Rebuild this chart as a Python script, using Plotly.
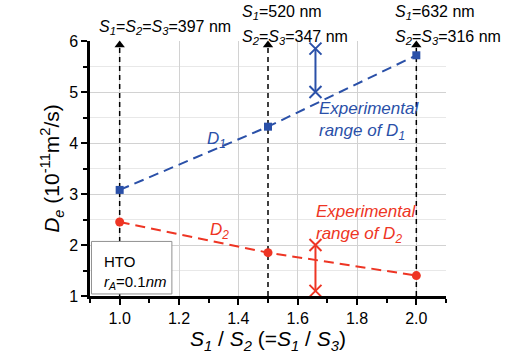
import plotly.graph_objects as go

# ---- data ----
ratio = [1.0, 1.5, 2.0]
d1 = [3.08, 4.32, 5.72]
d2 = [2.45, 1.85, 1.40]
exp_x = [1.66, 1.66]
exp_d1 = [5.0, 5.85]
exp_d2 = [1.1, 2.0]
guide_top = 5.92

BLUE = "#2a50a8"
RED = "#ee3524"
FONT = "Liberation Sans, Arial, sans-serif"

fig = go.Figure()

# vertical dashed guide lines with arrow heads
for xv in ratio:
    fig.add_trace(go.Scatter(x=[xv, xv], y=[1.0, guide_top - 0.05], mode="lines",
                             line=dict(color="black", width=1.5, dash="5px,4px"),
                             showlegend=False, hoverinfo="skip", cliponaxis=False))
    fig.add_trace(go.Scatter(x=[xv], y=[guide_top], mode="markers",
                             marker=dict(symbol="triangle-up", size=9, color="black"),
                             showlegend=False, hoverinfo="skip", cliponaxis=False))

# D1 / D2 model lines
fig.add_trace(go.Scatter(x=ratio, y=d1, mode="lines+markers",
                         line=dict(color=BLUE, width=2, dash="10px,6px"),
                         marker=dict(symbol="square", size=8, color=BLUE),
                         showlegend=False, cliponaxis=False))
fig.add_trace(go.Scatter(x=ratio, y=d2, mode="lines+markers",
                         line=dict(color=RED, width=2, dash="10px,6px"),
                         marker=dict(symbol="circle", size=9, color=RED),
                         showlegend=False, cliponaxis=False))

# experimental ranges
fig.add_trace(go.Scatter(x=exp_x, y=exp_d1, mode="lines+markers",
                         line=dict(color=BLUE, width=2),
                         marker=dict(symbol="x-thin", size=12, line=dict(color=BLUE, width=2)),
                         showlegend=False, cliponaxis=False))
fig.add_trace(go.Scatter(x=exp_x, y=exp_d2, mode="lines+markers",
                         line=dict(color=RED, width=2),
                         marker=dict(symbol="x-thin", size=12, line=dict(color=RED, width=2)),
                         showlegend=False, cliponaxis=False))

ann = []
def txt(x, y, text, color="black", size=14, xanchor="left", yanchor="middle", xref="x", yref="y"):
    ann.append(dict(x=x, y=y, xref=xref, yref=yref, text=text, showarrow=False,
                    xanchor=xanchor, yanchor=yanchor, align="left",
                    font=dict(family=FONT, size=size, color=color)))

txt(0.922, 1.053, "<i>S</i><sub><i>1</i></sub>=<i>S</i><sub><i>2</i></sub>=<i>S</i><sub><i>3</i></sub>=397 nm", size=16, yref="paper")
txt(1.405, 1.111, "<i>S</i><sub><i>1</i></sub>=520 nm", size=16, yref="paper")
txt(1.405, 1.015, "<i>S</i><sub><i>2</i></sub>=<i>S</i><sub><i>3</i></sub>=347 nm", size=16, yref="paper")
txt(1.922, 1.111, "<i>S</i><sub><i>1</i></sub>=632 nm", size=16, yref="paper")
txt(1.922, 1.015, "<i>S</i><sub><i>2</i></sub>=<i>S</i><sub><i>3</i></sub>=316 nm", size=16, yref="paper")

txt(1.325, 4.05, "<i>D</i><sub><i>1</i></sub>", color=BLUE, size=17, xanchor="center")
txt(1.335, 2.28, "<i>D</i><sub><i>2</i></sub>", color=RED, size=17, xanchor="center")
txt(1.664, 4.44, "<i>Experimental<br>range of D</i><sub><i>1</i></sub>", color=BLUE, size=17)
txt(1.656, 2.42, "<i>Experimental<br>range of D</i><sub><i>2</i></sub>", color=RED, size=17)

txt(0.94, 1.46, "HTO<br><i>r</i><sub><i>A</i></sub>=0.1<i>nm</i>", size=15)

fig.add_shape(type="rect", x0=0.905, x1=1.176, y0=1.04, y1=2.07, xref="x", yref="y",
              line=dict(color="#909090", width=1), fillcolor="white", layer="above")

fig.update_layout(
    width=520, height=360, autosize=False,
    margin=dict(l=90, r=74, t=41, b=57),
    paper_bgcolor="white", plot_bgcolor="white",
    font=dict(family=FONT, size=16, color="black"),
    annotations=ann,
    xaxis=dict(range=[0.9, 2.1], tickvals=[1.0, 1.2, 1.4, 1.6, 1.8, 2.0],
               ticktext=["1.0", "1.2", "1.4", "1.6", "1.8", "2.0"],
               showline=True, linecolor="black", linewidth=2.5,
               ticks="outside", ticklen=6, tickwidth=1.5, tickcolor="black",
               showgrid=True, gridcolor="#d2d2d2", gridwidth=1, zeroline=False,
               minor=dict(tickvals=[0.9, 1.1, 1.3, 1.5, 1.7, 1.9, 2.1], ticks="outside",
                          ticklen=4, tickwidth=1.5, tickcolor="black", showgrid=False),
               tickfont=dict(size=16),
               title=dict(text="<i>S</i><sub><i>1</i></sub> / <i>S</i><sub><i>2</i></sub> (=<i>S</i><sub><i>1</i></sub> / <i>S</i><sub><i>3</i></sub>)",
                          font=dict(size=21), standoff=6)),
    yaxis=dict(range=[1, 6], tickvals=[1, 2, 3, 4, 5, 6],
               showline=True, linecolor="black", linewidth=2.5,
               ticks="outside", ticklen=6, tickwidth=1.5, tickcolor="black",
               showgrid=True, gridcolor="#d2d2d2", gridwidth=1, zeroline=False,
               minor=dict(tickvals=[1.5, 2.5, 3.5, 4.5, 5.5], ticks="outside",
                          ticklen=4, tickwidth=1.5, tickcolor="black",
                          showgrid=True, gridcolor="#e8e8e8", gridwidth=1),
               tickfont=dict(size=16),
               title=dict(text="<i>D</i><sub><i>e</i></sub> (10<sup>-11</sup>m<sup>2</sup>/s)",
                          font=dict(size=21), standoff=4)),
)

fig.write_html("out.html")
